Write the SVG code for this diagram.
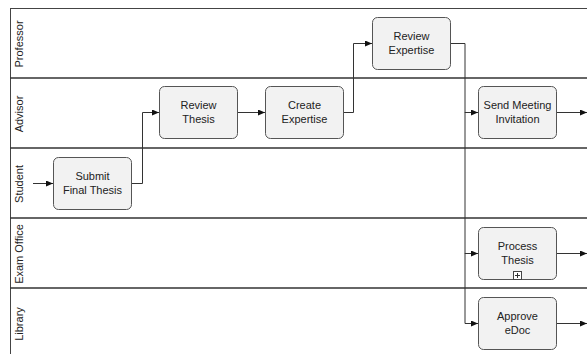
<svg xmlns="http://www.w3.org/2000/svg" width="587" height="354" viewBox="0 0 587 354">
<style>
.lane{stroke:#333;stroke-width:1.5;fill:none}
.lbl{font-family:"Liberation Sans",Arial,sans-serif;font-size:11px;fill:#222;text-anchor:middle}
.box{fill:#f2f2f2;stroke:#555;stroke-width:1}
.t{font-family:"Liberation Sans",Arial,sans-serif;font-size:11px;fill:#222;text-anchor:middle}
.c{fill:none;stroke:#333;stroke-width:1}
</style>
<defs>
<marker id="ah" markerWidth="7" markerHeight="6" refX="7" refY="3" orient="auto" markerUnits="userSpaceOnUse">
<path d="M0,0 L7,3 L0,6 z" fill="#111"/>
</marker>
</defs>
<rect width="587" height="354" fill="#fff"/>
<g id="lanes">
<line x1="10" y1="8.5" x2="587" y2="8.5" stroke="#444" stroke-width="1"/>
<line x1="10.5" y1="8" x2="10.5" y2="354" stroke="#444" stroke-width="1"/>
<line class="lane" x1="10" y1="78" x2="587" y2="78"/>
<line class="lane" x1="10" y1="148" x2="587" y2="148"/>
<line class="lane" x1="10" y1="218" x2="587" y2="218"/>
<line class="lane" x1="10" y1="288" x2="587" y2="288"/>
<text class="lbl" transform="translate(22.5,44) rotate(-90)">Professor</text>
<text class="lbl" transform="translate(22.5,114) rotate(-90)">Advisor</text>
<text class="lbl" transform="translate(22.5,184) rotate(-90)">Student</text>
<text class="lbl" transform="translate(22.5,254) rotate(-90)">Exam Office</text>
<text class="lbl" transform="translate(22.5,324) rotate(-90)">Library</text>
</g>
<g id="connectors">
<path class="c" d="M33,183.5 H53" marker-end="url(#ah)"/>
<path class="c" d="M132,183.5 H142.5 V112.5 H159" marker-end="url(#ah)"/>
<path class="c" d="M238,112.5 H265" marker-end="url(#ah)"/>
<path class="c" d="M344,112.5 H353.5 V43.5 H372" marker-end="url(#ah)"/>
<path class="c" d="M450,43.5 H465 V112.5 H478" marker-end="url(#ah)" stroke="#666"/>
<path class="c" d="M465,112 V253.5 H478" marker-end="url(#ah)" stroke="#666"/>
<path class="c" d="M465,253 V323.5 H478" marker-end="url(#ah)" stroke="#666"/>
<path class="c" d="M557,112.5 H587" marker-end="url(#ah)"/>
<path class="c" d="M556,253.5 H587" marker-end="url(#ah)"/>
<path class="c" d="M556,323.5 H587" marker-end="url(#ah)"/>
</g>
<g id="submit">
<rect class="box" x="53.5" y="157.5" width="78" height="52" rx="5"/>
<text class="t" x="92.5" y="180">Submit</text>
<text class="t" x="92.5" y="194">Final Thesis</text>
</g>
<g id="reviewThesis">
<rect class="box" x="159.5" y="86.5" width="78" height="52" rx="5"/>
<text class="t" x="198.5" y="109">Review</text>
<text class="t" x="198.5" y="123">Thesis</text>
</g>
<g id="createExpertise">
<rect class="box" x="265.5" y="86.5" width="78" height="52" rx="5"/>
<text class="t" x="304.5" y="109">Create</text>
<text class="t" x="304.5" y="123">Expertise</text>
</g>
<g id="reviewExpertise">
<rect class="box" x="372.5" y="17.5" width="78" height="52" rx="5"/>
<text class="t" x="411.5" y="40">Review</text>
<text class="t" x="411.5" y="54">Expertise</text>
</g>
<g id="sendMeeting">
<rect class="box" x="478.5" y="86.5" width="78" height="52" rx="5"/>
<text class="t" x="517.5" y="109">Send Meeting</text>
<text class="t" x="517.5" y="123">Invitation</text>
</g>
<g id="processThesis">
<rect class="box" x="478.5" y="227.5" width="78" height="52" rx="5"/>
<text class="t" x="517.5" y="250">Process</text>
<text class="t" x="517.5" y="264">Thesis</text>
<rect x="513.5" y="271.5" width="8" height="8" fill="#fff" stroke="#444" stroke-width="1"/>
<path d="M517.5,273 V278 M515,275.5 H520" stroke="#333" stroke-width="1"/>
</g>
<g id="approveEdoc">
<rect class="box" x="478.5" y="297.5" width="78" height="52" rx="5"/>
<text class="t" x="517.5" y="320">Approve</text>
<text class="t" x="517.5" y="334">eDoc</text>
</g>
</svg>
